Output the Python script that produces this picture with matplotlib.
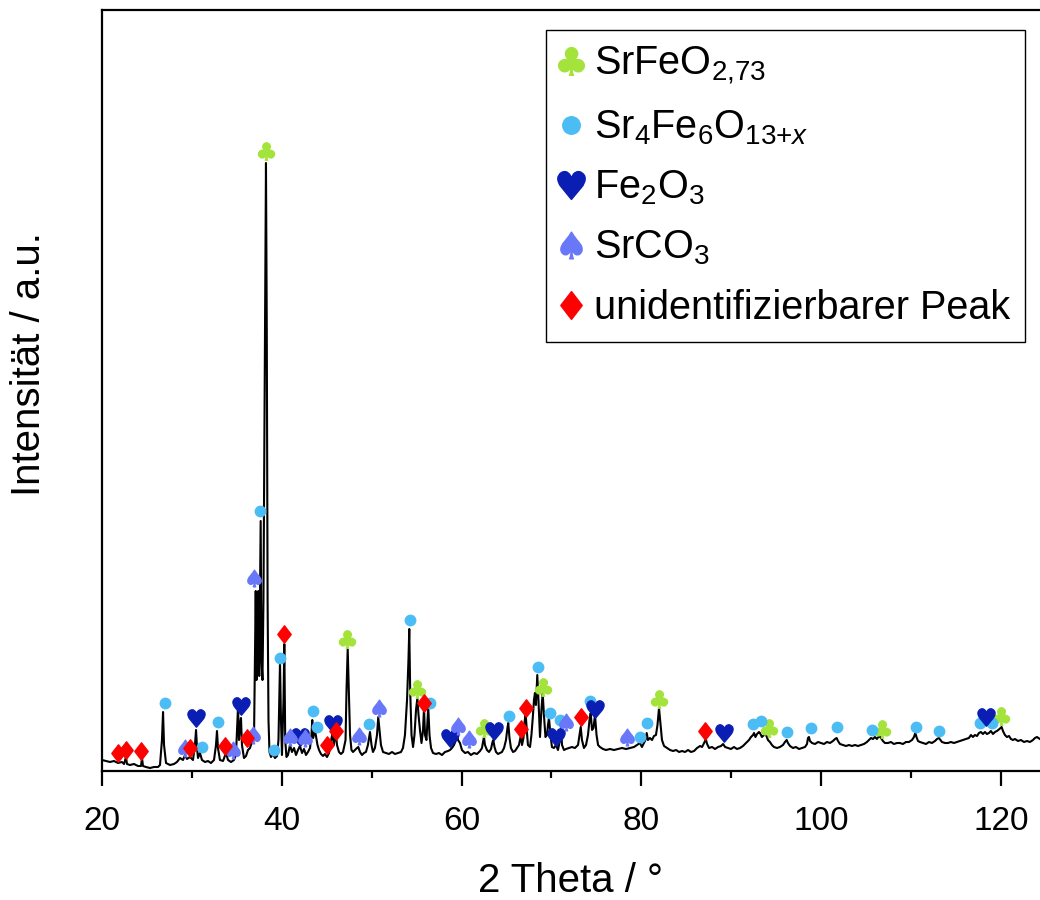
import matplotlib
matplotlib.use('Agg')
import matplotlib.pyplot as plt
import numpy as np
from matplotlib.textpath import TextPath
from matplotlib.font_manager import FontProperties
from matplotlib.path import Path
from matplotlib.ticker import MultipleLocator

plt.rcParams['font.family'] = 'Liberation Sans'
plt.rcParams['mathtext.fontset'] = 'custom'
plt.rcParams['mathtext.rm'] = 'Liberation Sans'
plt.rcParams['mathtext.it'] = 'Liberation Sans:italic'
plt.rcParams['mathtext.bf'] = 'Liberation Sans:bold'

# diffractogram
two_theta = [
    20.00, 20.44, 20.89, 21.33, 21.78, 22.22, 22.45, 22.67, 22.78, 23.11,
    23.56, 24.00, 24.34, 24.45, 24.56, 24.89, 25.34, 25.78, 26.23, 26.45,
    26.67, 26.79, 26.90, 27.12, 27.56, 28.01, 28.34, 28.68, 29.01, 29.23,
    29.45, 29.79, 30.12, 30.34, 30.46, 30.57, 30.68, 30.90, 31.12, 31.46,
    31.79, 32.12, 32.46, 32.68, 32.79, 32.90, 33.12, 33.46, 33.79, 34.02,
    34.35, 34.68, 34.90, 35.13, 35.24, 35.35, 35.46, 35.57, 35.79, 36.02,
    36.24, 36.46, 36.68, 36.91, 37.02, 37.10, 37.19, 37.30, 37.39, 37.49,
    37.57, 37.65, 37.74, 37.85, 37.96, 38.07, 38.15, 38.24, 38.33, 38.42,
    38.52, 38.63, 38.80, 39.02, 39.24, 39.47, 39.63, 39.80, 39.91, 40.02,
    40.19, 40.28, 40.38, 40.52, 40.69,
    40.91, 41.13, 41.36, 41.58, 41.80, 42.02, 42.25, 42.47, 42.69, 42.91,
    43.14, 43.30, 43.39, 43.49, 43.69, 43.80, 43.97, 44.14, 44.36, 44.58,
    44.80, 45.03, 45.25, 45.42, 45.53, 45.66, 45.79, 45.92, 46.03, 46.14,
    46.36, 46.58, 46.81, 47.09, 47.20, 47.33, 47.45, 47.59, 47.75, 47.92,
    48.14, 48.36, 48.51, 48.70, 48.92, 49.14, 49.36, 49.58, 49.81, 49.98,
    50.14, 50.36, 50.59, 50.73, 50.87, 51.03, 51.26, 51.59, 51.92, 52.26,
    52.59, 52.92, 53.26, 53.48, 53.70, 53.93, 54.09, 54.18, 54.28, 54.43,
    54.60, 54.76, 54.93, 55.08, 55.21, 55.37, 55.54, 55.71, 55.82, 55.93,
    56.09, 56.29, 56.43, 56.60, 56.82, 57.15, 57.48, 57.82, 58.15, 58.49,
    58.71, 58.93, 59.15, 59.38, 59.49, 59.60,
    59.82, 60.04, 60.38, 60.71, 61.04, 61.38, 61.71, 62.05, 62.27, 62.38,
    62.49, 62.60, 62.82, 63.05, 63.27, 63.44, 63.53, 63.66, 63.83, 64.05,
    64.27, 64.49, 64.72, 64.94, 65.10, 65.19, 65.33, 65.49, 65.72, 65.94,
    66.16, 66.38, 66.49, 66.61, 66.72, 66.88, 67.03, 67.13, 67.25, 67.38,
    67.61, 67.77, 67.94, 68.05, 68.16, 68.27, 68.42, 68.55, 68.72, 68.88,
    69.02, 69.16, 69.33, 69.50, 69.61, 69.72, 69.89, 70.05, 70.27, 70.50,
    70.72, 70.94, 71.06, 71.17, 71.39, 71.61, 71.95, 72.28, 72.61, 72.95,
    73.11, 73.25, 73.39, 73.61, 73.84, 74.06, 74.23, 74.36, 74.51, 74.67,
    74.84, 75.01, 75.18, 75.39, 75.73, 76.06, 76.51, 76.95, 77.40, 77.84,
    78.29, 78.73, 79.18, 79.51, 79.84,
    80.06, 80.29, 80.45, 80.59, 80.73, 80.95, 81.18, 81.40, 81.62, 81.79,
    81.96, 82.13, 82.29, 82.52, 82.85, 83.19, 83.52, 83.86, 84.19, 84.53,
    84.85, 85.19, 85.52, 85.86, 86.19, 86.53, 86.75, 87.03, 87.16, 87.31,
    87.53, 87.86, 88.19, 88.53, 88.86, 89.09, 89.31, 89.64, 89.96, 90.30,
    90.63, 90.97, 91.30, 91.63, 91.97, 92.19, 92.42, 92.53, 92.69, 92.86,
    93.08, 93.19, 93.41, 93.64, 93.75, 93.91, 94.08, 94.30, 94.52, 94.75,
    95.08, 95.41, 95.75, 95.97, 96.16, 96.30, 96.53, 96.86, 97.19, 97.53,
    97.86, 98.20, 98.42, 98.53, 98.64, 98.75, 98.98, 99.31, 99.65, 99.98,
    100.31, 100.64, 100.98, 101.31, 101.54, 101.72, 101.87, 102.09, 102.43, 102.76,
    103.09, 103.42, 103.76, 104.09, 104.42, 104.76, 105.09, 105.31, 105.54, 105.76,
    105.98, 106.20, 106.43, 106.65, 106.87, 107.09, 107.43, 107.76, 108.09, 108.43,
    108.76, 109.09, 109.43, 109.76, 110.10, 110.32, 110.47, 110.60, 110.77, 110.99,
    111.32, 111.66, 111.99, 112.32, 112.66, 112.88, 113.10, 113.27, 113.43, 113.77,
    114.10, 114.43, 114.77, 115.10, 115.43, 115.77, 116.10, 116.43, 116.66, 116.88,
    117.10, 117.33, 117.55, 117.77, 117.99, 118.22, 118.44, 118.66, 118.88, 119.11,
    119.33, 119.55, 119.83, 120.07, 120.22, 120.44, 120.66, 120.89, 121.11, 121.33,
    121.55, 121.89, 122.22, 122.56, 122.89, 123.22, 123.56, 123.78, 124.00, 124.33,
]
intensity = [
    11, 10, 9, 10, 8, 9, 7, 14, 7, 6,
    7, 5, 5, 13, 5, 4, 3, 4, 4, 6,
    31, 59, 26, 8, 6, 7, 9, 13, 11, 16,
    12, 14, 11, 26, 41, 23, 13, 18, 11, 9,
    10, 8, 11, 26, 40, 23, 11, 10, 18, 11,
    9, 11, 16, 64, 31, 46, 53, 26, 13, 15,
    21, 23, 29, 33, 121, 180, 91, 131, 180, 95,
    171, 250, 111, 91, 171, 341, 471, 608, 441, 171,
    51, 19, 14, 17, 13, 15, 31, 108, 51, 16,
    71, 127, 31, 14, 16,
    26, 19, 23, 16, 21, 25, 18, 22, 16, 19,
    23, 36, 51, 33, 41, 35, 26, 21, 17, 15,
    17, 14, 18, 26, 33, 38, 26, 35, 36, 26,
    19, 17, 19, 31, 81, 122, 81, 36, 21, 19,
    21, 23, 24, 19, 16, 18, 19, 26, 39, 26,
    19, 23, 36, 54, 41, 26, 19, 18, 17, 19,
    17, 18, 19, 23, 36, 71, 111, 142, 81, 36,
    24, 36, 61, 73, 56, 41, 28, 41, 63, 36,
    31, 64, 36, 23, 18, 17, 18, 16, 19, 20,
    21, 23, 26, 31, 39, 31,
    28, 21, 18, 19, 16, 18, 17, 20, 23, 29,
    34, 26, 21, 19, 22, 29, 31, 24, 19, 17,
    18, 19, 23, 31, 43, 48, 33, 23, 19, 20,
    23, 26, 31, 36, 26, 33, 51, 57, 41, 26,
    24, 36, 56, 71, 78, 66, 96, 71, 34, 61,
    78, 56, 34, 36, 46, 53, 36, 24, 23, 26,
    21, 31, 44, 26, 21, 22, 23, 24, 23, 26,
    36, 44, 31, 23, 26, 36, 51, 58, 41, 43,
    56, 36, 26, 24, 22, 21, 22, 21, 22, 23,
    22, 23, 24, 26, 28,
    24, 28, 31, 38, 31, 33, 31, 35, 36, 46,
    63, 46, 31, 25, 23, 21, 20, 21, 19, 20,
    19, 21, 19, 20, 23, 25, 24, 29, 32, 27,
    23, 24, 22, 24, 25, 27, 24, 23, 22, 24,
    22, 23, 25, 28, 31, 34, 36, 38, 34, 37,
    39, 38, 34, 36, 38, 35, 31, 29, 26, 24,
    23, 24, 26, 29, 31, 28, 25, 23, 24, 22,
    23, 24, 27, 33, 34, 30, 28, 27, 29, 28,
    27, 29, 28, 30, 32, 33, 30, 27, 26, 25,
    26, 25, 26, 25, 26, 27, 29, 31, 33, 32,
    34, 32, 35, 33, 30, 28, 28, 29, 27, 28,
    28, 27, 29, 29, 31, 34, 38, 34, 30, 29,
    28, 27, 29, 28, 30, 32, 33, 31, 29, 28,
    28, 29, 28, 29, 30, 31, 32, 33, 36, 34,
    36, 35, 38, 39, 37, 39, 37, 38, 40, 37,
    39, 40, 42, 44, 40, 36, 34, 35, 32, 31,
    32, 30, 31, 29, 30, 29, 31, 33, 34, 32,
]

# phase markers (2 theta, height of the symbol)
club_x = [38.24, 47.25, 55.04, 62.49, 69.05, 81.96, 94.19, 106.76, 119.99]
club_y = [620, 132, 82, 43, 84, 72, 43, 42, 55]
circle_x = [27.01, 31.12, 32.90, 37.57, 39.13, 39.80, 43.47, 43.91, 49.70, 54.26,
            56.48, 65.27, 68.50, 69.83, 70.94, 74.28, 79.84, 80.62, 92.41, 93.30,
            96.19, 98.86, 101.75, 105.65, 110.54, 113.10, 117.66, 118.99]
circle_y = [68, 24, 49, 260, 21, 113, 60, 44, 47, 151,
            68, 55, 104, 58, 51, 70, 34, 48, 47, 50,
            39, 43, 44, 41, 44, 40, 48, 48]
heart_x = [30.46, 35.46, 42.02, 45.69, 58.71, 63.60, 70.50, 74.84, 89.19, 118.33]
heart_y = [53, 65, 34, 47, 33, 40, 34, 62, 38, 54]
spade_x = [29.23, 34.57, 36.80, 36.91, 40.91, 42.58, 48.59, 50.81, 59.60, 60.82, 71.61, 78.40]
spade_y = [23, 21, 36, 193, 34, 33, 35, 63, 45, 32, 49, 34]
diamond_x = [21.78, 22.67, 24.34, 29.79, 33.68, 36.13, 40.24, 45.03, 46.03, 55.82,
             66.61, 67.16, 73.28, 87.07]
diamond_y = [18, 21, 20, 23, 25, 33, 137, 26, 40, 68, 42, 63, 54, 40]

labels = [r'SrFeO$_{2{,}73}$', r'Sr$_4$Fe$_6$O$_{13{+}x}$', r'Fe$_2$O$_3$',
          r'SrCO$_3$', 'unidentifizierbarer Peak']


def suit_marker(ch):
    p = TextPath((0, 0), ch, prop=FontProperties(family='DejaVu Sans'))
    ext = p.get_extents()
    v = p.vertices.copy()
    v[:, 0] -= (ext.x0 + ext.x1) / 2
    v[:, 1] -= (ext.y0 + ext.y1) / 2
    # closepoly vertices are not drawn but would count in the marker scaling
    v[p.codes == Path.CLOSEPOLY] = 0
    return Path(v, p.codes)


fig = plt.figure(figsize=(10.4, 9), dpi=100)
ax = fig.add_axes([102/1040, 129/900, 938/1040, 761/900])

ax.plot(two_theta, intensity, color='black', lw=1.5, zorder=2)

kw = dict(linestyle='none', zorder=3)
h1, = ax.plot(club_x, club_y, marker=suit_marker('\u2663'), ms=12.5, color='#a3e33b', label=labels[0], **kw)
h2, = ax.plot(circle_x, circle_y, marker='o', ms=8.5, mew=0, color='#4bbcf4', label=labels[1], **kw)
h3, = ax.plot(heart_x, heart_y, marker=suit_marker('\u2665'), ms=12.5, color='#0a1eb4', label=labels[2], **kw)
h4, = ax.plot(spade_x, spade_y, marker=suit_marker('\u2660'), ms=12, color='#6878f8', label=labels[3], **kw)
h5, = ax.plot(diamond_x, diamond_y, marker=suit_marker('\u2666'), ms=12.5, color='#ff0000', label=labels[4], **kw)

ax.set_xlim(20, 124.34)
ax.set_ylim(0, 761)
ax.xaxis.set_major_locator(MultipleLocator(20))
ax.xaxis.set_minor_locator(MultipleLocator(10))
ax.set_yticks([])
ax.tick_params(axis='x', which='major', direction='out', length=11, width=1.6,
               labelsize=24, pad=14, top=False)
ax.tick_params(axis='x', which='minor', direction='out', length=5, width=1.6, top=False)
for s in ['left', 'bottom', 'top']:
    ax.spines[s].set_linewidth(1.6)
ax.spines['right'].set_visible(False)

ax.set_xlabel('2 Theta / °', fontsize=29, labelpad=18)
ax.set_ylabel('Intensität / a.u.', fontsize=29)
ax.yaxis.set_label_coords(-0.058, 0.535)

leg = ax.legend(handles=[h1, h2, h3, h4, h5], loc='upper right',
                bbox_to_anchor=(0.984, 0.974), borderaxespad=0, fontsize=28.5,
                frameon=True, fancybox=False, edgecolor='black', framealpha=1,
                handlelength=0.5, handletextpad=0.32, labelspacing=0.545,
                borderpad=0.38, markerscale=1.6)
leg.get_frame().set_linewidth(1.0)

fig.savefig('out.png', dpi=100)
